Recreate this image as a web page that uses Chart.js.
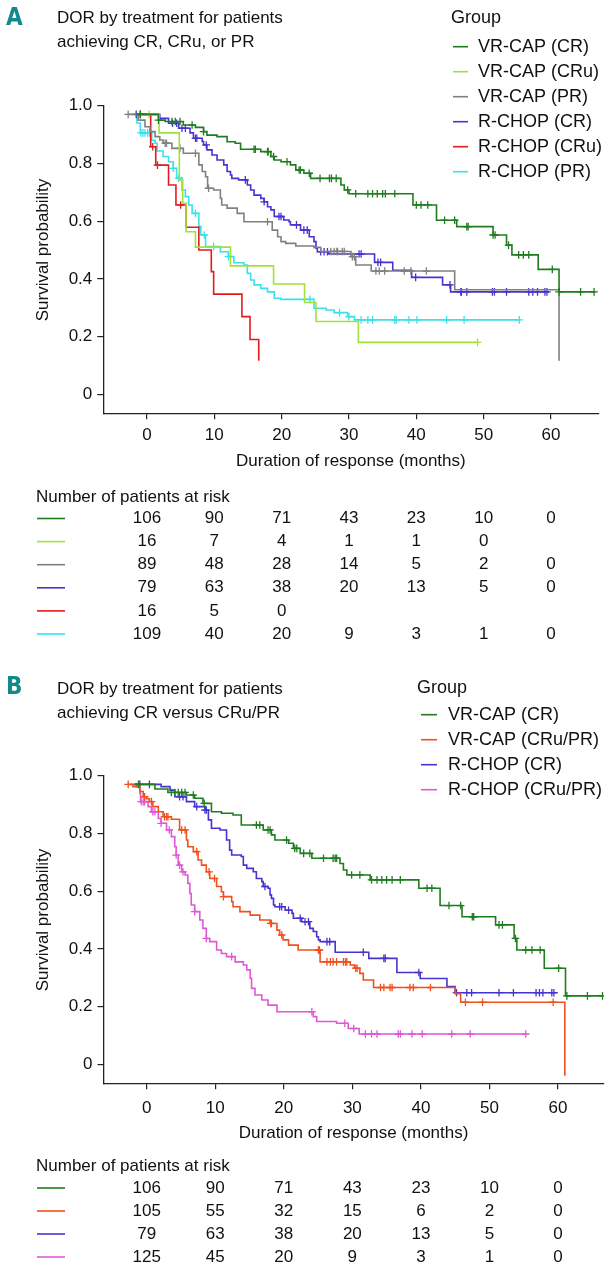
<!DOCTYPE html>
<html lang="en">
<head>
<meta charset="UTF-8" />
<title>DOR by treatment</title>
<script src="https://cdn.jsdelivr.net/npm/chart.js"></script>
<style>
  * { margin: 0; padding: 0; box-sizing: border-box; }
  body { background: #fff; width: 609px; height: 1272px; overflow: hidden; position: relative; }
  .panel { position: absolute; left: 0; width: 609px; }
  #boxA { top: 0; height: 650px; }
  #boxB { top: 650px; height: 622px; }
</style>
</head>
<body>
<div class="panel" id="boxA"><canvas id="chartA" width="609" height="650"></canvas></div>
<div class="panel" id="boxB"><canvas id="chartB" width="609" height="622"></canvas></div>

<script>
// ---- shared axis values ----
const xTicks = [0, 10, 20, 30, 40, 50, 60];
const yTicks = [0, 0.2, 0.4, 0.6, 0.8, 1.0];

// ---- panel A : CR, CRu, PR ----
const aNames = ["VR-CAP (CR)", "VR-CAP (CRu)", "VR-CAP (PR)", "R-CHOP (CR)", "R-CHOP (CRu)", "R-CHOP (PR)"];
const aColors = ["#1f7d1f", "#a2e03c", "#808080", "#4634cf", "#e41b1d", "#38e2ec"];

const aVrCrT = [-1.5, 1.7, 2.7, 5.4, 7.2, 8.4, 8.9, 10.4, 11.9, 13.1, 13.9, 16.9, 18.4, 18.9, 19.9, 21.3, 22.1, 23.3, 24.3, 28.8, 29.3, 30.0, 39.5, 43.0, 46.0, 51.4, 53.4, 54.2, 58.1, 61.2, 66.6];
const aVrCrS = [0.97, 0.95, 0.945, 0.933, 0.925, 0.91, 0.898, 0.893, 0.875, 0.87, 0.849, 0.841, 0.824, 0.812, 0.806, 0.795, 0.777, 0.766, 0.748, 0.725, 0.708, 0.695, 0.656, 0.603, 0.581, 0.552, 0.517, 0.483, 0.433, 0.355, 0.355];
const aVrCrC = [-1.0, 1.7, 3.7, 4.2, 4.9, 6.7, 8.4, 15.9, 16.1, 17.9, 18.0, 18.8, 20.8, 22.6, 22.8, 24.1, 25.7, 27.1, 27.4, 28.1, 29.8, 31.0, 32.8, 33.5, 34.2, 35.0, 35.4, 36.8, 40.0, 40.7, 41.7, 44.2, 45.7, 47.5, 47.7, 51.4, 51.7, 53.7, 55.2, 55.9, 56.7, 60.2, 61.2, 64.4, 66.4];

const aVrCruT = [0.0, 1.8, 4.8, 5.3, 5.8, 7.2, 12.4, 18.8, 23.4, 25.1, 31.4, 49.1];
const aVrCruS = [0.97, 0.906, 0.742, 0.662, 0.563, 0.51, 0.445, 0.382, 0.318, 0.252, 0.18, 0.18];
const aVrCruC = [0.3, 49.1];

const aVrPrT = [-2.8, -1.3, -0.3, 0.45, 1.2, 1.9, 2.4, 3.7, 5.4, 7.7, 8.2, 8.7, 9.0, 9.9, 10.9, 11.1, 11.9, 13.4, 14.4, 18.6, 19.4, 19.9, 20.6, 22.1, 24.8, 25.8, 30.3, 31.0, 33.3, 45.7, 61.2];
const aVrPrS = [0.97, 0.95, 0.927, 0.91, 0.893, 0.881, 0.87, 0.852, 0.835, 0.795, 0.772, 0.754, 0.714, 0.708, 0.679, 0.656, 0.645, 0.627, 0.598, 0.569, 0.546, 0.529, 0.523, 0.514, 0.509, 0.495, 0.477, 0.448, 0.427, 0.362, 0.116];
const aVrPrC = [-2.8, 2.7, 2.9, 4.9, 7.2, 9.15, 17.9, 27.3, 27.8, 28.2, 28.3, 29.0, 29.3, 30.5, 30.8, 34.0, 34.5, 35.3, 38.2, 39.2, 41.5];

const aRcCrT = [-1.8, 1.9, 3.2, 4.7, 6.4, 6.9, 8.2, 8.4, 8.9, 9.65, 10.4, 11.4, 11.9, 12.4, 12.6, 13.6, 14.9, 15.4, 15.9, 16.9, 17.4, 17.9, 18.4, 18.9, 20.3, 21.1, 21.3, 22.8, 24.1, 24.8, 25.1, 25.3, 27.0, 33.8, 36.5, 39.3, 43.9, 45.1, 59.7];
const aRcCrS = [0.97, 0.956, 0.939, 0.922, 0.906, 0.887, 0.876, 0.864, 0.847, 0.829, 0.812, 0.795, 0.772, 0.76, 0.748, 0.743, 0.725, 0.708, 0.69, 0.679, 0.667, 0.65, 0.639, 0.616, 0.604, 0.598, 0.587, 0.569, 0.546, 0.529, 0.506, 0.494, 0.486, 0.457, 0.43, 0.405, 0.379, 0.355, 0.355];
const aRcCrC = [-1.6, 3.8, 4.4, 5.2, 5.7, 7.2, 7.4, 8.8, 14.6, 17.4, 19.6, 19.9, 22.2, 23.3, 23.8, 25.8, 26.3, 26.8, 31.5, 31.8, 34.3, 34.7, 39.9, 45.0, 46.6, 46.7, 47.5, 51.3, 51.6, 53.4, 56.7, 57.3, 58.0, 59.1, 59.4];

const aRcCruT = [-1.0, 0.55, 1.3, 3.2, 4.3, 5.8, 7.7, 9.55, 9.9, 14.1, 15.3, 16.6];
const aRcCruS = [0.97, 0.858, 0.794, 0.725, 0.656, 0.579, 0.50, 0.425, 0.347, 0.269, 0.19, 0.116];
const aRcCruC = [-1.0, 0.85, 1.55, 5.0];

const aRcPrT = [-2.1, -1.5, -1.0, 0.7, 1.2, 1.5, 2.4, 3.2, 3.9, 4.4, 5.2, 5.7, 6.2, 6.7, 7.7, 8.0, 8.7, 10.9, 12.1, 12.9, 14.4, 14.9, 15.4, 15.9, 16.9, 17.9, 18.9, 19.9, 24.8, 26.6, 27.8, 29.8, 30.8, 55.3];
const aRcPrS = [0.97, 0.94, 0.906, 0.88, 0.87, 0.843, 0.824, 0.806, 0.783, 0.749, 0.708, 0.685, 0.656, 0.627, 0.581, 0.552, 0.512, 0.494, 0.477, 0.456, 0.448, 0.419, 0.396, 0.379, 0.367, 0.355, 0.333, 0.329, 0.298, 0.292, 0.283, 0.269, 0.258, 0.258];
const aRcPrC = [-0.9, -0.6, -0.3, 0.1, 0.4, 3.9, 4.7, 7.2, 8.5, 9.9, 12.1, 24.2, 28.6, 30.0, 31.8, 32.8, 33.5, 36.8, 37.0, 38.9, 40.1, 44.5, 47.1, 55.3];

const aRisk = [
  [106, 90, 71, 43, 23, 10, 0],
  [16, 7, 4, 1, 1, 0, null],
  [89, 48, 28, 14, 5, 2, 0],
  [79, 63, 38, 20, 13, 5, 0],
  [16, 5, 0, null, null, null, null],
  [109, 40, 20, 9, 3, 1, 0]
];

// ---- panel B : CR versus CRu/PR ----
const bNames = ["VR-CAP (CR)", "VR-CAP (CRu/PR)", "R-CHOP (CR)", "R-CHOP (CRu/PR)"];
const bColors = ["#1f7d1f", "#f0501c", "#4634cf", "#e058d6"];

const bVrCrT = [-1.75, 1.2, 3.1, 5.8, 7.0, 8.2, 9.45, 10.9, 12.6, 13.8, 17.0, 18.2, 18.7, 20.7, 21.4, 22.4, 24.1, 28.2, 28.7, 29.2, 32.6, 39.7, 42.8, 46.0, 50.9, 53.6, 54.0, 58.0, 61.1, 66.7];
const bVrCrS = [0.97, 0.954, 0.942, 0.933, 0.922, 0.904, 0.875, 0.87, 0.864, 0.829, 0.812, 0.795, 0.777, 0.766, 0.748, 0.731, 0.714, 0.696, 0.673, 0.656, 0.639, 0.61, 0.55, 0.511, 0.483, 0.436, 0.396, 0.333, 0.237, 0.237];
const bVrCrC = [-1.2, 3.6, 4.1, 4.6, 5.1, 5.6, 6.8, 8.4, 16.0, 16.5, 17.7, 18.0, 20.4, 21.6, 21.9, 22.9, 23.8, 25.8, 27.2, 27.5, 27.7, 29.9, 31.1, 32.8, 33.6, 34.3, 35.0, 35.8, 37.0, 40.9, 41.6, 44.1, 45.8, 47.5, 47.7, 51.4, 51.9, 53.8, 55.3, 56.2, 57.4, 60.1, 61.3, 64.3, 66.5];

const bVrPrT = [-2.7, -2.0, -1.0, -0.5, 0.0, 0.4, 0.9, 1.7, 2.4, 3.6, 4.8, 5.8, 6.0, 6.8, 7.5, 8.0, 8.7, 9.2, 10.2, 10.9, 11.2, 12.4, 12.6, 13.6, 15.1, 16.5, 18.0, 19.0, 19.4, 19.9, 20.7, 22.1, 25.3, 29.7, 30.3, 31.1, 31.6, 33.1, 45.0, 45.8, 61.0];
const bVrPrS = [0.97, 0.962, 0.945, 0.927, 0.92, 0.91, 0.893, 0.875, 0.858, 0.849, 0.812, 0.777, 0.754, 0.737, 0.708, 0.69, 0.667, 0.644, 0.616, 0.598, 0.581, 0.563, 0.546, 0.529, 0.517, 0.5, 0.488, 0.465, 0.448, 0.431, 0.413, 0.396, 0.355, 0.344, 0.333, 0.315, 0.292, 0.266, 0.245, 0.215, -0.04];
const bVrPrC = [-2.7, -0.3, 0.7, 2.6, 2.9, 3.1, 5.1, 5.6, 7.3, 9.1, 9.9, 11.2, 18.1, 18.2, 19.7, 25.05, 25.2, 26.3, 26.8, 27.2, 27.7, 28.7, 29.0, 29.2, 30.5, 30.7, 34.1, 34.6, 35.5, 35.8, 38.4, 38.9, 41.4, 46.5, 49.0, 59.3];

const bRcCrT = [-1.75, 2.1, 3.4, 4.1, 5.8, 7.0, 8.5, 9.0, 9.45, 10.7, 11.65, 12.1, 12.4, 13.8, 14.1, 14.6, 15.55, 16.0, 16.8, 17.0, 17.7, 18.0, 18.2, 18.5, 18.7, 20.2, 21.2, 21.4, 22.6, 23.8, 24.3, 24.8, 25.05, 25.3, 27.5, 32.4, 36.5, 39.9, 43.8, 45.0, 59.9];
const bRcCrS = [0.97, 0.962, 0.95, 0.927, 0.91, 0.893, 0.881, 0.847, 0.818, 0.812, 0.777, 0.742, 0.725, 0.72, 0.69, 0.679, 0.667, 0.644, 0.633, 0.616, 0.61, 0.587, 0.575, 0.552, 0.546, 0.534, 0.523, 0.506, 0.494, 0.471, 0.46, 0.442, 0.431, 0.425, 0.388, 0.367, 0.318, 0.297, 0.269, 0.248, 0.248];
const bRcCrC = [-1.0, 0.4, 4.8, 5.3, 7.3, 8.5, 8.7, 17.25, 19.4, 19.7, 20.7, 22.4, 23.1, 23.6, 26.3, 26.7, 31.6, 34.6, 34.8, 39.7, 45.2, 46.7, 47.4, 51.4, 53.5, 56.8, 57.3, 57.8, 59.1, 59.4];

const bRcPrT = [-2.2, -1.5, -1.0, -0.9, 0.2, 0.7, 1.7, 2.1, 2.9, 3.6, 4.1, 4.3, 4.6, 5.1, 5.6, 6.0, 6.3, 6.5, 7.0, 7.75, 8.2, 8.7, 9.2, 10.2, 10.9, 11.65, 12.9, 14.1, 14.6, 15.1, 15.3, 15.8, 16.8, 17.7, 19.0, 24.3, 24.8, 27.7, 29.4, 31.0, 55.3];
const bRcPrS = [0.97, 0.962, 0.939, 0.91, 0.893, 0.875, 0.852, 0.835, 0.812, 0.789, 0.754, 0.725, 0.69, 0.667, 0.656, 0.627, 0.592, 0.552, 0.529, 0.5, 0.471, 0.436, 0.425, 0.396, 0.384, 0.373, 0.355, 0.344, 0.327, 0.298, 0.263, 0.24, 0.223, 0.205, 0.182, 0.165, 0.148, 0.142, 0.124, 0.105, 0.105];
const bRcPrC = [-0.8, -0.5, -0.3, 0.9, 1.2, 2.1, 3.3, 4.3, 4.8, 5.3, 7.0, 8.7, 12.4, 24.1, 28.9, 30.2, 31.9, 32.8, 33.6, 36.7, 37.0, 38.7, 40.2, 44.5, 47.2, 55.3];

const bRisk = [
  [106, 90, 71, 43, 23, 10, 0],
  [105, 55, 32, 15, 6, 2, 0],
  [79, 63, 38, 20, 13, 5, 0],
  [125, 45, 20, 9, 3, 1, 0]
];

const FONT = '"Liberation Sans", Arial, Helvetica, sans-serif';

// value of a step curve at time c (value after any step at c)
function survAt(T, S, c) {
  let v = S[0];
  for (let i = 0; i < T.length; i++) if (T[i] <= c + 1e-9) v = S[i];
  return v;
}

function kmSets(T, S, C, color) {
  return [
    {
      data: T.map((t, i) => ({ x: t, y: S[i] })),
      showLine: true, stepped: true, borderColor: color, borderWidth: 1.6,
      pointRadius: 0, fill: false
    },
    {
      data: C.map(c => ({ x: c, y: survAt(T, S, c) })),
      showLine: false, pointStyle: "cross", pointRadius: 3.8,
      pointBorderColor: color, pointBorderWidth: 1.3, pointBackgroundColor: color
    }
  ];
}

// titles, legend, axis titles and risk table
const panelText = {
  id: "panelText",
  afterDraw(chart, args, o) {
    const ctx = chart.ctx;
    const xs = chart.scales.x, ys = chart.scales.y, ca = chart.chartArea;
    const seg = (x0, x1, y, c) => {
      ctx.strokeStyle = c; ctx.lineWidth = 1.6;
      ctx.beginPath(); ctx.moveTo(x0, y); ctx.lineTo(x1, y); ctx.stroke();
    };
    ctx.save();
    ctx.textBaseline = "middle";
    ctx.textAlign = "left";
    ctx.fillStyle = "#14898b";
    ctx.font = 'bold 24px "Liberation Sans Narrow", "DejaVu Sans Condensed", sans-serif';
    ctx.fillText(o.letter, 6, o.letterY);

    ctx.fillStyle = "#111";
    ctx.font = "17px " + FONT;
    o.title.forEach((t, i) => ctx.fillText(t, 57, o.titleY[i]));
    ctx.font = "18px " + FONT;
    ctx.fillText("Group", o.groupX, o.groupY);
    o.names.forEach((n, i) => {
      const yy = o.legY0 + i * o.legStep;
      seg(o.legX0, o.legX1, yy, o.colors[i]);
      ctx.fillText(n, o.legTextX, yy);
    });

    ctx.font = "17px " + FONT;
    ctx.textAlign = "center";
    ctx.fillText("Duration of response (months)", (ca.left + ca.right) / 2, o.xTitleY);
    ctx.save();
    ctx.translate(43, (ys.getPixelForValue(1) + ys.getPixelForValue(0)) / 2);
    ctx.rotate(-Math.PI / 2);
    ctx.fillText("Survival probability", 0, 0);
    ctx.restore();

    ctx.textAlign = "left";
    ctx.fillText("Number of patients at risk", 36, o.riskHeadY);
    ctx.textAlign = "center";
    o.risk.forEach((row, r) => {
      const yy = o.riskRowY + o.riskStep * r;
      seg(37, 65, yy, o.colors[r]);
      row.forEach((n, k) => {
        if (n !== null) ctx.fillText(String(n), xs.getPixelForValue(xTicks[k]), yy);
      });
    });
    ctx.restore();
  }
};

function makeChart(id, sets, lay, text) {
  return new Chart(document.getElementById(id), {
    type: "scatter",
    data: { datasets: sets },
    options: {
      responsive: false, animation: false, devicePixelRatio: 1, events: [],
      layout: { padding: { top: lay.padTop, bottom: lay.padBottom, left: 0, right: lay.padRight } },
      plugins: { legend: { display: false }, tooltip: { enabled: false }, panelText: text },
      scales: {
        x: {
          type: "linear", min: lay.xMin, max: lay.xMax,
          afterBuildTicks: s => { s.ticks = xTicks.map(v => ({ value: v })); },
          afterFit: s => { s.height = 40; },
          grid: { drawOnChartArea: false, drawTicks: true, tickLength: 6, color: "#222", lineWidth: 1.2 },
          border: { display: true, color: "#222", width: 1.3 },
          ticks: { color: "#111", padding: lay.xPad, maxRotation: 0, autoSkip: false,
                   font: { size: 17, family: FONT, lineHeight: 1 } }
        },
        y: {
          type: "linear", min: lay.yMin, max: 1.0,
          afterBuildTicks: s => { s.ticks = yTicks.map(v => ({ value: v })); },
          afterFit: s => { s.width = lay.yWidth; },
          grid: { drawOnChartArea: false, drawTicks: true, tickLength: 6, color: "#222", lineWidth: 1.2 },
          border: { display: true, color: "#222", width: 1.3 },
          ticks: { color: "#111", padding: 5, autoSkip: false,
                   font: { size: 17, family: FONT },
                   callback: v => (v === 0 ? "0" : v.toFixed(1)) }
        }
      }
    },
    plugins: [panelText]
  });
}

const setsA = [].concat(
  kmSets(aVrCrT, aVrCrS, aVrCrC, aColors[0]),
  kmSets(aVrCruT, aVrCruS, aVrCruC, aColors[1]),
  kmSets(aVrPrT, aVrPrS, aVrPrC, aColors[2]),
  kmSets(aRcCrT, aRcCrS, aRcCrC, aColors[3]),
  kmSets(aRcCruT, aRcCruS, aRcCruC, aColors[4]),
  kmSets(aRcPrT, aRcPrS, aRcPrC, aColors[5])
);

const setsB = [].concat(
  kmSets(bVrCrT, bVrCrS, bVrCrC, bColors[0]),
  kmSets(bVrPrT, bVrPrS, bVrPrC, bColors[1]),
  kmSets(bRcCrT, bRcCrS, bRcCrC, bColors[2]),
  kmSets(bRcPrT, bRcPrS, bRcPrC, bColors[3])
);

makeChart("chartA", setsA,
  { padTop: 105.7, padBottom: 196.7, padRight: 10.5, yWidth: 103.3, xMin: -6.49, xMax: 67.06, yMin: -0.0659, xPad: 8 },
  { letter: "A", letterY: 19, title: ["DOR by treatment for patients", "achieving CR, CRu, or PR"], titleY: [18, 42],
    groupX: 451, groupY: 18, names: aNames, colors: aColors, legX0: 453, legX1: 468, legTextX: 478,
    legY0: 46.7, legStep: 25, xTitleY: 461, riskHeadY: 497, riskRowY: 518.5, riskStep: 23.1, risk: aRisk });

makeChart("chartB", setsB,
  { padTop: 125.7, padBottom: 148.7, padRight: 2, yWidth: 103.5, xMin: -6.3, xMax: 66.67, yMin: -0.0659, xPad: 11 },
  { letter: "B", letterY: 38, title: ["DOR by treatment for patients", "achieving CR versus CRu/PR"], titleY: [39, 63],
    groupX: 417, groupY: 38, names: bNames, colors: bColors, legX0: 421, legX1: 437, legTextX: 448,
    legY0: 64.7, legStep: 25, xTitleY: 483, riskHeadY: 516, riskRowY: 538, riskStep: 23, risk: bRisk });
</script>
</body>
</html>
